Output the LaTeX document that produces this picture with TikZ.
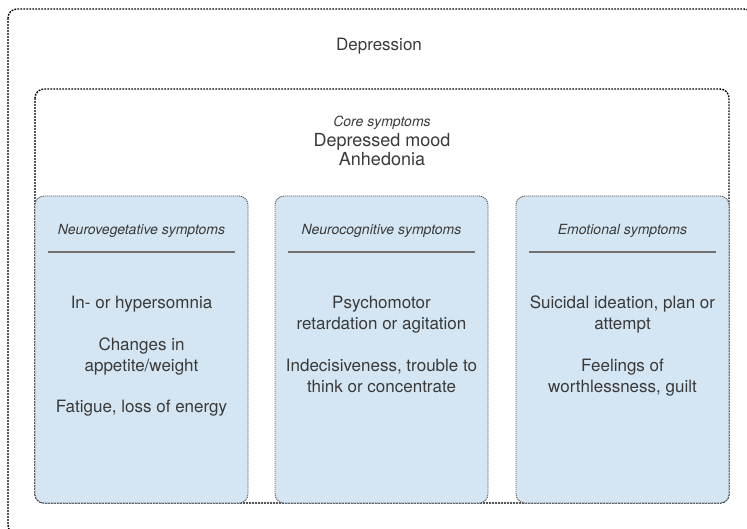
\documentclass[tikz,border=0pt]{standalone}
\usepackage{fontspec}
\setmainfont{TeX Gyre Heros}
\definecolor{txt}{HTML}{3A3A3A}
\definecolor{colfill}{HTML}{D4E6F3}
\definecolor{colborder}{HTML}{555555}
\definecolor{rulegray}{HTML}{707070}
\tikzset{
  frameline/.style={draw=black, line width=1.4pt, dash pattern=on 1.8pt off 1.2pt, rounded corners=9pt},
  colbox/.style={draw=colborder, fill=colfill, line width=0.8pt, dash pattern=on 1.2pt off 0.8pt, rounded corners=9pt},
  hrule/.style={draw=rulegray, line width=1.1pt},
  maintext/.style={text=txt, font=\fontsize{17}{21}\selectfont, anchor=base, inner sep=0pt},
  coretext/.style={text=txt, font=\fontsize{18}{21}\selectfont, anchor=base, inner sep=0pt},
  headtext/.style={text=txt, font=\fontsize{14}{17}\selectfont\itshape, anchor=base, inner sep=0pt}
}
\begin{document}
\begin{tikzpicture}[x=1pt,y=-1pt]
\useasboundingbox (0,0) rectangle (747,528);
% outer frame
\path[frameline] (8,9) rectangle (753,534);
\node[maintext] (dep) at (379,50) {Depression};
% inner frame
\path[frameline] (35,89) rectangle (729,503);
\node[headtext] (core) at (382,126) {Core symptoms};
\node[coretext] (mood) at (382,146) {Depressed mood};
\node[coretext] (anh) at (382,165) {Anhedonia};
% columns
\path[colbox] (35,196) rectangle (248,503);
\path[colbox] (275,196) rectangle (488,503);
\path[colbox] (516,196) rectangle (729,503);
\draw[hrule] (48,252) -- (235,252);
\draw[hrule] (288,252) -- (475,252);
\draw[hrule] (529,252) -- (716,252);
\node[headtext] (h1) at (141.5,234) {Neurovegetative symptoms};
\node[headtext] (h2) at (381.5,234) {Neurocognitive symptoms};
\node[headtext] (h3) at (622.5,234) {Emotional symptoms};
% column 1
\node[maintext] (a1) at (141.5,308) {In- or hypersomnia};
\node[maintext] (a2) at (141.5,350) {Changes in};
\node[maintext] (a3) at (141.5,371) {appetite/weight};
\node[maintext] (a4) at (141.5,412) {Fatigue, loss of energy};
% column 2
\node[maintext] (b1) at (381.5,308) {Psychomotor};
\node[maintext] (b2) at (381.5,329) {retardation or agitation};
\node[maintext] (b3) at (381.5,371) {Indecisiveness, trouble to};
\node[maintext] (b4) at (381.5,392) {think or concentrate};
% column 3
\node[maintext] (c1) at (622.5,308) {Suicidal ideation, plan or};
\node[maintext] (c2) at (622.5,329) {attempt};
\node[maintext] (c3) at (622.5,371) {Feelings of};
\node[maintext] (c4) at (622.5,392) {worthlessness, guilt};
\end{tikzpicture}
\end{document}
